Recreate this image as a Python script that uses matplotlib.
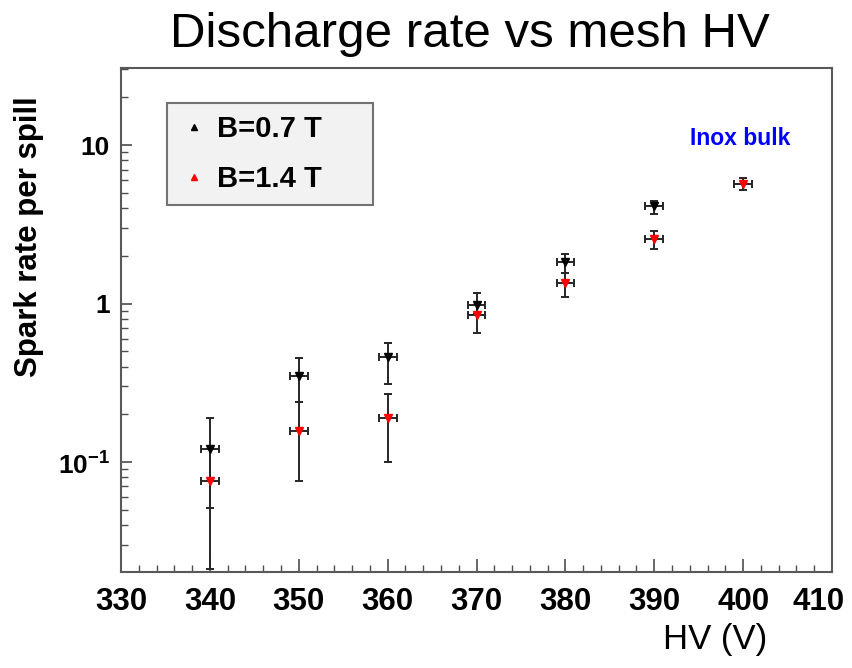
import matplotlib
matplotlib.use('Agg')
import matplotlib.pyplot as plt
import matplotlib.transforms as mtransforms
from matplotlib.lines import Line2D
from matplotlib.ticker import FixedLocator, FuncFormatter, LogLocator, NullFormatter
import numpy as np

plt.rcParams['font.family'] = ['Liberation Sans', 'DejaVu Sans']
plt.rcParams['mathtext.fontset'] = 'custom'
plt.rcParams['mathtext.rm'] = 'Liberation Sans:bold'
plt.rcParams['mathtext.bf'] = 'Liberation Sans:bold'

# spark rate per spill vs mesh HV, two magnetic field settings
hv_07 = [340, 350, 360, 370, 380, 390]
rate_07 = [0.12, 0.35, 0.46, 0.98, 1.82, 4.1]
low_07 = [0.051, 0.24, 0.31, 0.86, 1.55, 3.7]
high_07 = [0.19, 0.45, 0.56, 1.16, 2.04, 4.45]

hv_14 = [340, 350, 360, 370, 380, 390, 400]
rate_14 = [0.076, 0.157, 0.19, 0.85, 1.34, 2.55, 5.7]
low_14 = [0.021, 0.076, 0.10, 0.65, 1.1, 2.2, 5.2]
high_14 = [0.12, 0.24, 0.27, 0.98, 1.55, 2.85, 6.2]

hv_err = 1.0
x_ticks = [330, 340, 350, 360, 370, 380, 390, 400, 410]
y_ticks = [0.1, 1, 10]

fig = plt.figure(figsize=(8.53, 6.68), dpi=100)
ax = fig.add_axes([0.1419, 0.1437, 0.8335, 0.7543])


def draw_series(hv, rate, low, high, color):
    rate = np.asarray(rate)
    yerr = [rate - np.asarray(low), np.asarray(high) - rate]
    ax.errorbar(hv, rate, xerr=hv_err, yerr=yerr,
                fmt='none', ecolor='0.15', elinewidth=1.4,
                capsize=3, capthick=1.4, zorder=2)
    ax.plot(hv, rate, linestyle='none', marker='v', markersize=6,
            color=color, zorder=3)


draw_series(hv_07, rate_07, low_07, high_07, 'black')
draw_series(hv_14, rate_14, low_14, high_14, 'red')

# axes
ax.set_yscale('log')
ax.set_xlim(330, 410)
ax.set_ylim(0.0202, 30.6)
ax.xaxis.set_major_locator(FixedLocator(x_ticks))
ax.xaxis.set_minor_locator(FixedLocator(np.arange(330, 411, 2)))
ax.yaxis.set_major_locator(FixedLocator(y_ticks))
ax.yaxis.set_minor_locator(LogLocator(base=10, subs=np.arange(2, 10)))
ax.yaxis.set_minor_formatter(NullFormatter())


def y_fmt(v, pos):
    if v >= 1:
        return '%d' % v
    return r'10$^{-%d}$' % round(-np.log10(v))


ax.yaxis.set_major_formatter(FuncFormatter(y_fmt))
ax.tick_params(axis='x', which='major', direction='in', length=9.5, width=1.2,
               labelsize=22.5, pad=11, color='0.3')
ax.tick_params(axis='x', which='minor', direction='in', length=5, width=1.0, color='0.3')
ax.tick_params(axis='y', which='major', direction='in', length=8, width=1.2,
               labelsize=19, pad=8, color='0.3')
ax.tick_params(axis='y', which='minor', direction='in', length=5, width=1.0, color='0.3')
for lab in ax.get_xticklabels() + ax.get_yticklabels():
    lab.set_fontweight('bold')

# keep the last x label inside the canvas
last = ax.get_xticklabels()[-1]
last.set_transform(last.get_transform() +
                   mtransforms.ScaledTranslation(-0.13, 0, fig.dpi_scale_trans))

for spine in ['top', 'bottom', 'left', 'right']:
    ax.spines[spine].set_linewidth(1.5)
    ax.spines[spine].set_color('0.35')

# labels and title
ax.set_ylabel('Spark rate per spill', fontsize=22.5, fontweight='bold')
ax.yaxis.set_label_coords(-0.108, 0.665)
fig.text(0.9, 0.043, 'HV (V)', fontsize=25, ha='right', va='center')
fig.text(0.551, 0.948, 'Discharge rate vs mesh HV', fontsize=35.5, ha='center', va='center')
ax.text(0.871, 0.86, 'Inox bulk', transform=ax.transAxes, fontsize=16.5,
        fontweight='bold', color='blue', ha='center', va='center')

# legend
handles = [Line2D([], [], linestyle='none', marker='^', markersize=4, color='black'),
           Line2D([], [], linestyle='none', marker='^', markersize=4, color='red')]
leg = ax.legend(handles, ['B=0.7 T', 'B=1.4 T'], loc='upper left',
                bbox_to_anchor=(0.065, 0.732, 0.289, 0.198), mode='expand',
                prop={'size': 21, 'weight': 'bold'},
                frameon=True, fancybox=False, facecolor='#f2f2f2', edgecolor='0.45',
                framealpha=1, borderpad=0.4, labelspacing=0.75,
                handlelength=1.0, handletextpad=0.3, borderaxespad=0)
leg.get_frame().set_linewidth(1.5)

fig.savefig('out.png', dpi=100)
